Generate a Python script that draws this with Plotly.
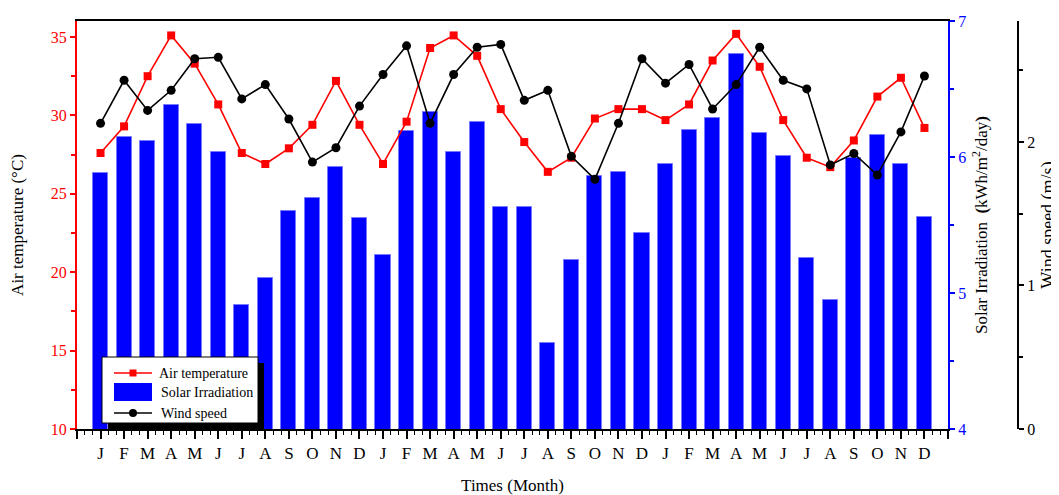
import plotly.graph_objects as go

months = ["J", "F", "M", "A", "M", "J", "J", "A", "S", "O", "N", "D"] * 3
x_pos = list(range(1, 37))

air_temp = [27.6, 29.3, 32.5, 35.1, 33.3, 30.7, 27.6, 26.9, 27.9, 29.4, 32.2, 29.4,
            26.9, 29.6, 34.3, 35.1, 33.8, 30.4, 28.3, 26.4, 27.3, 29.8, 30.4, 30.4,
            29.7, 30.7, 33.5, 35.2, 33.1, 29.7, 27.3, 26.7, 28.4, 31.2, 32.4, 29.2]

solar = [5.88, 6.15, 6.12, 6.38, 6.24, 6.04, 4.91, 5.11, 5.60, 5.70, 5.93, 5.55,
         5.28, 6.19, 6.33, 6.04, 6.26, 5.63, 5.63, 4.63, 5.24, 5.86, 5.89, 5.44,
         5.95, 6.20, 6.29, 6.76, 6.18, 6.01, 5.26, 4.95, 5.99, 6.16, 5.95, 5.56]

wind = [2.13, 2.43, 2.22, 2.36, 2.58, 2.59, 2.30, 2.40, 2.16, 1.86, 1.96, 2.25,
        2.47, 2.67, 2.13, 2.47, 2.66, 2.68, 2.29, 2.36, 1.90, 1.74, 2.13, 2.58,
        2.41, 2.54, 2.23, 2.40, 2.66, 2.43, 2.37, 1.84, 1.92, 1.77, 2.07, 2.46]

legend_names = ["Air temperature", "Solar Irradiation", "Wind speed"]

FONT = "Liberation Serif, Times New Roman, serif"
RED, BLUE, BLACK = "#FF0000", "#0000FF", "#000000"
# page body has an 8px margin, so the figure is sized to the visible area
W, H = 1051, 487
L, R, T, B = 69, 41, 13, 66
pw = W - L - R
ph = H - T - B
dom_end = (940 - L) / pw
OFF = 8


def px(xs):
    return (xs - OFF - L) / pw


def py(ys):
    return (H - B - (ys - OFF)) / ph


fig = go.Figure()

fig.add_trace(go.Bar(
    x=x_pos, y=solar, name=legend_names[1], yaxis="y", width=0.64,
    marker=dict(color=BLUE, line=dict(color="#7777FF", width=1)),
    showlegend=False,
))
fig.add_trace(go.Scatter(
    x=x_pos, y=air_temp, name=legend_names[0], yaxis="y2", mode="lines+markers",
    line=dict(color=RED, width=1.6),
    marker=dict(symbol="square", size=8, color=RED),
    showlegend=False,
))
fig.add_trace(go.Scatter(
    x=x_pos, y=wind, name=legend_names[2], yaxis="y3", mode="lines+markers",
    line=dict(color=BLACK, width=1.6),
    marker=dict(symbol="circle", size=9, color=BLACK),
    showlegend=False,
))

tickvals = list(range(0, 38))
ticktext = [""] + months + [""]

# legend box drawn with shapes (shadow, frame, symbols) and annotations (text)
bx0, bx1, by0, by1 = 102, 258, 357, 423
sh = 6
rows = [373, 392, 413]
sx0, sx1, sxc = 114, 152, 133
shapes = [
    dict(type="rect", xref="paper", yref="paper",
         x0=px(bx0 + sh), x1=px(bx1 + sh), y0=py(by1 + sh), y1=py(by0 + sh),
         fillcolor=BLACK, line=dict(width=0), layer="above"),
    dict(type="rect", xref="paper", yref="paper",
         x0=px(bx0), x1=px(bx1), y0=py(by1), y1=py(by0),
         fillcolor="white", line=dict(color=BLACK, width=1), layer="above"),
    # air temperature: line + square
    dict(type="line", xref="paper", yref="paper",
         x0=px(sx0), x1=px(sx1), y0=py(rows[0]), y1=py(rows[0]),
         line=dict(color=RED, width=1.6), layer="above"),
    dict(type="rect", xref="paper", yref="paper",
         x0=px(sxc - 3.5), x1=px(sxc + 3.5), y0=py(rows[0] + 3.5), y1=py(rows[0] - 3.5),
         fillcolor=RED, line=dict(width=0), layer="above"),
    # solar: filled bar patch
    dict(type="rect", xref="paper", yref="paper",
         x0=px(sx0), x1=px(sx1), y0=py(rows[1] + 9), y1=py(rows[1] - 9),
         fillcolor=BLUE, line=dict(width=0), layer="above"),
    # wind: line + circle
    dict(type="line", xref="paper", yref="paper",
         x0=px(sx0), x1=px(sx1), y0=py(rows[2]), y1=py(rows[2]),
         line=dict(color=BLACK, width=1.6), layer="above"),
    dict(type="circle", xref="paper", yref="paper",
         x0=px(sxc - 4), x1=px(sxc + 4), y0=py(rows[2] + 4), y1=py(rows[2] - 4),
         fillcolor=BLACK, line=dict(width=0), layer="above"),
]
text_x = [157, 159, 159]
annotations = [
    dict(xref="paper", yref="paper", x=px(text_x[i]), y=py(rows[i]),
         xanchor="left", yanchor="middle", text=legend_names[i], showarrow=False,
         font=dict(family=FONT, size=14, color=BLACK))
    for i in range(3)
]

fig.update_layout(
    width=W, height=H,
    margin=dict(l=L, r=R, t=T, b=B, autoexpand=False),
    paper_bgcolor="white", plot_bgcolor="white",
    font=dict(family=FONT, size=16, color="black"),
    bargap=0,
    showlegend=False,
    xaxis=dict(
        domain=[0, dom_end], range=[0, 37], automargin=False,
        tickmode="array", tickvals=tickvals, ticktext=ticktext,
        ticks="outside", ticklen=8, tickwidth=1.5, tickcolor="black",
        showline=True, linecolor="black", linewidth=2, mirror=True,
        showgrid=False, zeroline=False,
        tickfont=dict(family=FONT, size=17, color="black"),
        minor=dict(tickmode="linear", tick0=0, dtick=1/3, ticks="outside",
                   ticklen=4, tickwidth=1, tickcolor="black"),
        title=dict(text="Times (Month)", font=dict(family=FONT, size=17), standoff=22),
    ),
    yaxis=dict(
        range=[4, 7], side="right", anchor="x", automargin=False,
        tickvals=[4, 5, 6, 7], ticks="outside", ticklen=5, tickwidth=1.5,
        tickcolor=BLUE, showline=True, linecolor=BLUE, linewidth=2,
        showgrid=False, zeroline=False,
        tickfont=dict(family=FONT, size=16, color=BLUE),
        minor=dict(tickmode="linear", tick0=4, dtick=0.5, ticks="outside",
                   ticklen=4, tickwidth=1.5, tickcolor=BLUE),
        title=dict(text="Solar Irradiation  <b>(</b>kWh/m<sup>2</sup>/day<b>)</b>",
                   font=dict(family=FONT, size=17, color="black"), standoff=10),
    ),
    yaxis2=dict(
        range=[10, 36.02], side="left", overlaying="y", anchor="x", automargin=False,
        tickvals=[10, 15, 20, 25, 30, 35], ticks="outside", ticklen=5, tickwidth=1.5,
        tickcolor=RED, showline=True, linecolor=RED, linewidth=2,
        showgrid=False, zeroline=False,
        tickfont=dict(family=FONT, size=16, color=RED),
        minor=dict(tickmode="linear", tick0=10, dtick=2.5, ticks="outside",
                   ticklen=4, tickwidth=1.5, tickcolor=RED),
        title=dict(text="Air temperature (°C)",
                   font=dict(family=FONT, size=17, color="black"), standoff=24),
    ),
    yaxis3=dict(
        range=[0, 2.843], side="right", overlaying="y", anchor="free", position=1.0,
        automargin=False,
        tickvals=[0, 1, 2], ticks="outside", ticklen=5, tickwidth=1.5,
        tickcolor="black", showline=True, linecolor="black", linewidth=2,
        showgrid=False, zeroline=False,
        tickfont=dict(family=FONT, size=16, color="black"),
        minor=dict(tickmode="linear", tick0=0, dtick=0.5, ticks="outside",
                   ticklen=4, tickwidth=1.5, tickcolor="black"),
        title=dict(text="Wind speed (m/s)",
                   font=dict(family=FONT, size=18, color="black"), standoff=6),
    ),
    shapes=shapes,
    annotations=annotations,
)

fig.write_html("out.html")
